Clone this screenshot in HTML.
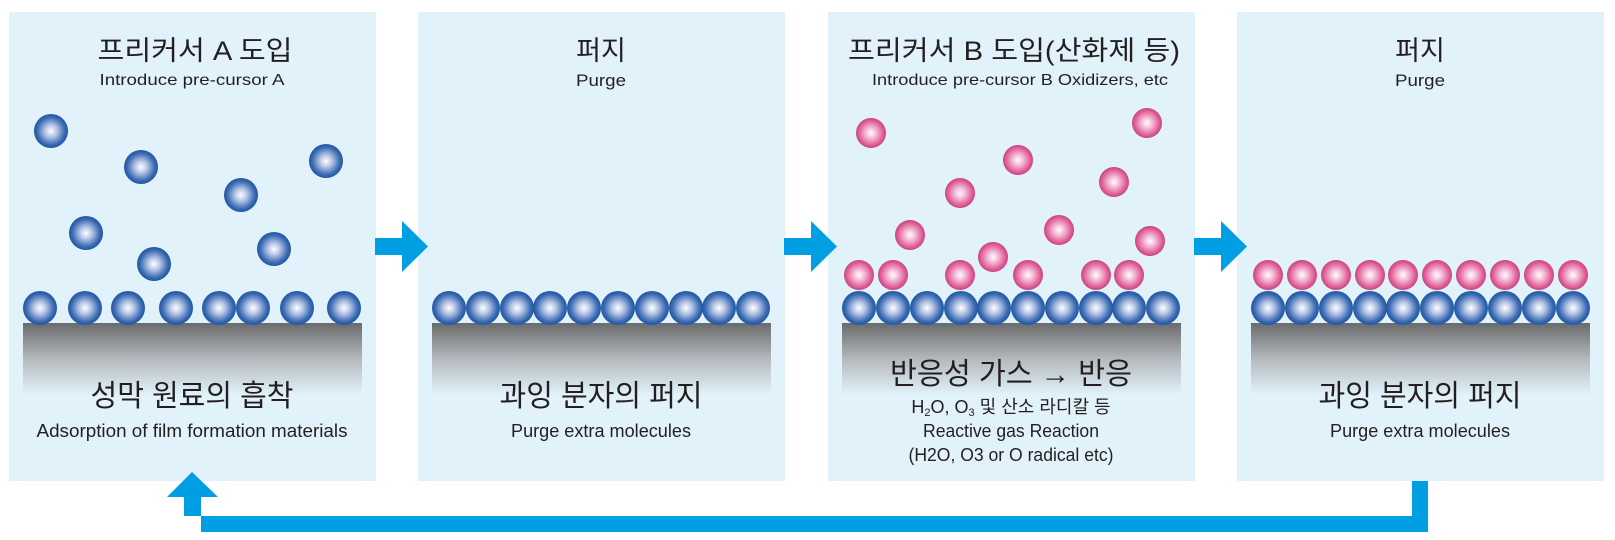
<!DOCTYPE html>
<html><head><meta charset="utf-8"><style>
html,body{margin:0;padding:0;background:#fff;}
svg{display:block;}
text{font-family:"Liberation Sans","Noto Sans CJK KR","NanumGothic",sans-serif;fill:#231f20;text-anchor:middle;}
</style></head><body>
<svg width="1615" height="540" viewBox="0 0 1615 540" xmlns="http://www.w3.org/2000/svg">
<defs>
<radialGradient id="bb" cx="0.5" cy="0.5" r="0.5">
<stop offset="0" stop-color="#ffffff"/><stop offset="0.35" stop-color="#b6c6e6"/><stop offset="0.8" stop-color="#3d6cb4"/><stop offset="1" stop-color="#1f56a0"/>
</radialGradient>
<radialGradient id="pb" cx="0.5" cy="0.5" r="0.5">
<stop offset="0" stop-color="#ffffff"/><stop offset="0.35" stop-color="#f4bcd6"/><stop offset="0.8" stop-color="#e0609a"/><stop offset="1" stop-color="#c8447f"/>
</radialGradient>
<linearGradient id="sub" x1="0" y1="0" x2="0" y2="1">
<stop offset="0" stop-color="#6a6b6d"/><stop offset="0.15" stop-color="#808284"/><stop offset="0.5" stop-color="#b4b9bd"/><stop offset="1" stop-color="#e1f2fb"/>
</linearGradient>
<circle id="B" r="17" fill="url(#bb)"/>
<circle id="P" r="15" fill="url(#pb)"/>
</defs>

<rect x="9" y="12" width="367" height="469" fill="#e1f2fb"/>
<rect x="418" y="12" width="367" height="469" fill="#e1f2fb"/>
<rect x="828" y="12" width="367" height="469" fill="#e1f2fb"/>
<rect x="1237" y="12" width="367" height="469" fill="#e1f2fb"/>

<rect x="23" y="323" width="339" height="72" fill="url(#sub)"/>
<rect x="432" y="323" width="339" height="72" fill="url(#sub)"/>
<rect x="842" y="323" width="339" height="72" fill="url(#sub)"/>
<rect x="1251" y="323" width="339" height="72" fill="url(#sub)"/>

<g fill="#009fe3">
<polygon points="375,238 402,238 402,221 428,246.5 402,272 402,255 375,255"/>
<polygon points="784,238 811,238 811,221 837,246.5 811,272 811,255 784,255"/>
<polygon points="1194,238 1221,238 1221,221 1247,246.5 1221,272 1221,255 1194,255"/>
<polygon points="1412,481 1428,481 1428,532 201,532 201,497 218,497 192,472 167,497 184,497 184,516 1412,516"/>
</g>

<use href="#B" x="51" y="131"/><use href="#B" x="141" y="167"/><use href="#B" x="241" y="195"/>
<use href="#B" x="326" y="161"/><use href="#B" x="86" y="233"/><use href="#B" x="154" y="264"/>
<use href="#B" x="274" y="249"/>
<use href="#B" x="40" y="308"/><use href="#B" x="85" y="308"/><use href="#B" x="128" y="308"/>
<use href="#B" x="176" y="308"/><use href="#B" x="219" y="308"/><use href="#B" x="253" y="308"/>
<use href="#B" x="297" y="308"/><use href="#B" x="344" y="308"/>

<g transform="translate(418,0)">
<use href="#B" x="31" y="308"/><use href="#B" x="65" y="308"/><use href="#B" x="99" y="308"/>
<use href="#B" x="132" y="308"/><use href="#B" x="166" y="308"/><use href="#B" x="200" y="308"/>
<use href="#B" x="234" y="308"/><use href="#B" x="268" y="308"/><use href="#B" x="301" y="308"/>
<use href="#B" x="335" y="308"/>
</g>

<g transform="translate(828,0)">
<use href="#B" x="31" y="308"/><use href="#B" x="65" y="308"/><use href="#B" x="99" y="308"/>
<use href="#B" x="133" y="308"/><use href="#B" x="166" y="308"/><use href="#B" x="200" y="308"/>
<use href="#B" x="234" y="308"/><use href="#B" x="268" y="308"/><use href="#B" x="301" y="308"/>
<use href="#B" x="335" y="308"/>
</g>
<use href="#P" x="871" y="133"/><use href="#P" x="1147" y="123"/><use href="#P" x="1018" y="160"/>
<use href="#P" x="960" y="193"/><use href="#P" x="1114" y="182"/><use href="#P" x="910" y="235"/>
<use href="#P" x="1059" y="230"/><use href="#P" x="1150" y="241"/><use href="#P" x="993" y="257"/>
<use href="#P" x="859" y="275"/><use href="#P" x="893" y="275"/><use href="#P" x="960" y="275"/>
<use href="#P" x="1028" y="275"/><use href="#P" x="1096" y="275"/><use href="#P" x="1129" y="275"/>

<g transform="translate(1237,0)">
<use href="#B" x="31" y="308"/><use href="#B" x="65" y="308"/><use href="#B" x="99" y="308"/>
<use href="#B" x="133" y="308"/><use href="#B" x="166" y="308"/><use href="#B" x="200" y="308"/>
<use href="#B" x="234" y="308"/><use href="#B" x="268" y="308"/><use href="#B" x="302" y="308"/>
<use href="#B" x="336" y="308"/>
<use href="#P" x="31" y="275"/><use href="#P" x="65" y="275"/><use href="#P" x="99" y="275"/>
<use href="#P" x="133" y="275"/><use href="#P" x="166" y="275"/><use href="#P" x="200" y="275"/>
<use href="#P" x="234" y="275"/><use href="#P" x="268" y="275"/><use href="#P" x="302" y="275"/>
<use href="#P" x="336" y="275"/>
</g>

<text x="195" y="60" font-size="27" textLength="195" lengthAdjust="spacingAndGlyphs">프리커서 A 도입</text>
<text x="192" y="85" font-size="16" textLength="185" lengthAdjust="spacingAndGlyphs">Introduce pre-cursor A</text>
<text x="601" y="60" font-size="27">퍼지</text>
<text x="601" y="86" font-size="17" textLength="50" lengthAdjust="spacingAndGlyphs">Purge</text>
<text x="1014" y="60" font-size="27" textLength="332" lengthAdjust="spacingAndGlyphs">프리커서 B 도입(산화제 등)</text>
<text x="1020" y="85" font-size="16" textLength="296" lengthAdjust="spacingAndGlyphs">Introduce pre-cursor B Oxidizers, etc</text>
<text x="1420" y="60" font-size="27">퍼지</text>
<text x="1420" y="86" font-size="17" textLength="50" lengthAdjust="spacingAndGlyphs">Purge</text>

<text x="192" y="406" font-size="30" textLength="203" lengthAdjust="spacingAndGlyphs">성막 원료의 흡착</text>
<text x="192" y="437" font-size="18" textLength="311" lengthAdjust="spacingAndGlyphs">Adsorption of film formation materials</text>
<text x="601" y="406" font-size="30" textLength="203" lengthAdjust="spacingAndGlyphs">과잉 분자의 퍼지</text>
<text x="601" y="437" font-size="18" textLength="180" lengthAdjust="spacingAndGlyphs">Purge extra molecules</text>
<text x="1011" y="384" font-size="30" textLength="242" lengthAdjust="spacingAndGlyphs">반응성 가스 → 반응</text>
<text x="1011" y="413" font-size="18">H<tspan font-size="11" dy="3">2</tspan><tspan dy="-3">O, O</tspan><tspan font-size="11" dy="3">3</tspan><tspan dy="-3"> 및 산소 라디칼 등</tspan></text>
<text x="1011" y="437" font-size="18" textLength="176" lengthAdjust="spacingAndGlyphs">Reactive gas Reaction</text>
<text x="1011" y="461" font-size="18" textLength="205" lengthAdjust="spacingAndGlyphs">(H2O, O3 or O radical etc)</text>
<text x="1420" y="406" font-size="30" textLength="203" lengthAdjust="spacingAndGlyphs">과잉 분자의 퍼지</text>
<text x="1420" y="437" font-size="18" textLength="180" lengthAdjust="spacingAndGlyphs">Purge extra molecules</text>
</svg>
</body></html>
